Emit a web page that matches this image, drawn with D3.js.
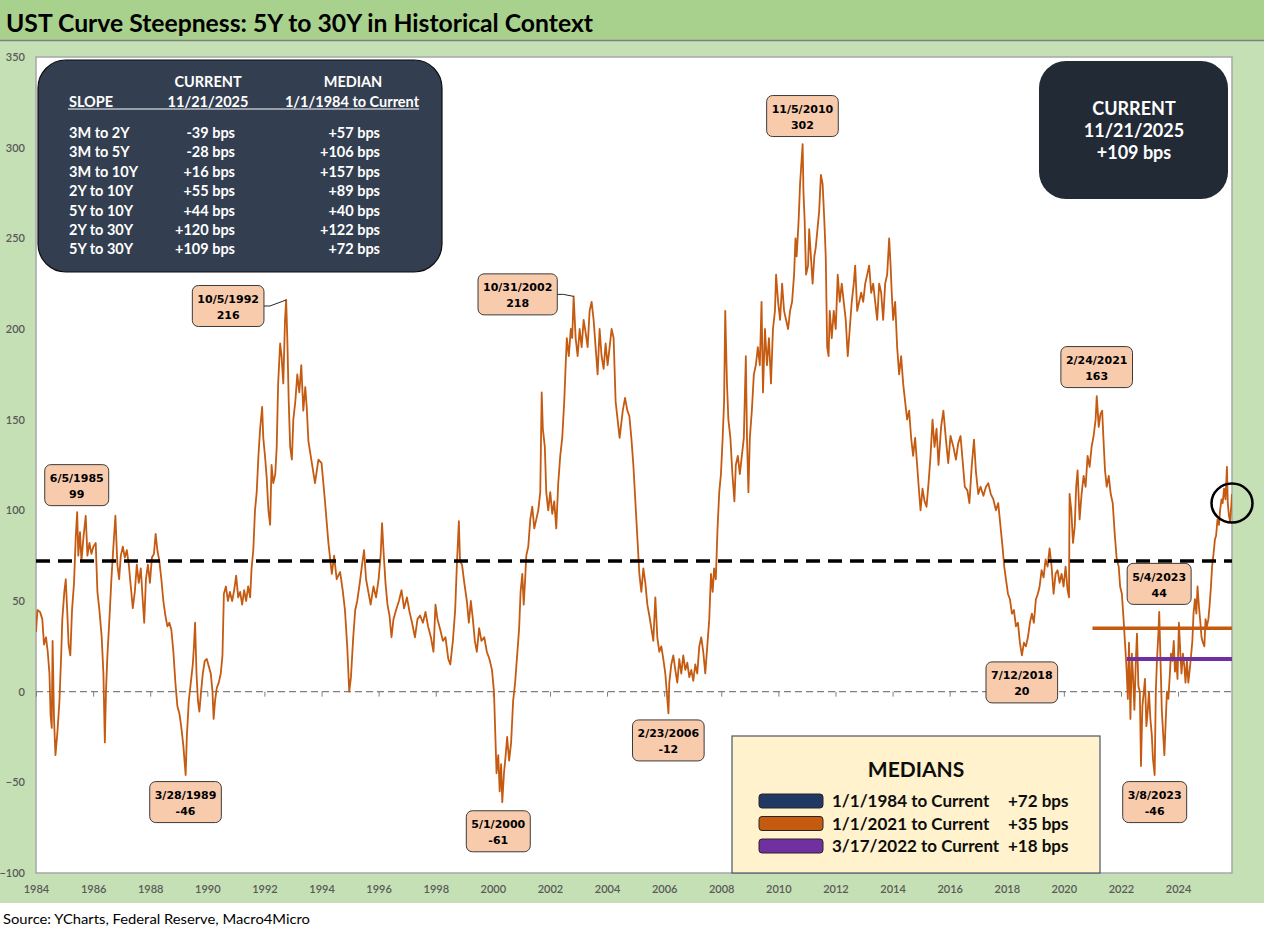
<!DOCTYPE html>
<html>
<head>
<meta charset="utf-8">
<script src="https://cdn.jsdelivr.net/npm/d3@7"></script>
<style>
  body { margin: 0; background: #fff; }
  svg { display: block; }
</style>
</head>
<body>
<div id="chart"></div>
<script>
// Traced points of the 5Y-30Y slope: decimal year and value in bps (one line per year)
const yearPos = [
  1984.00,1984.05,1984.14,1984.22,1984.28,1984.35,1984.41,1984.47,1984.51,1984.55,1984.58,1984.63,1984.68,1984.75,1984.82,1984.88,1984.92,1984.99,
  1985.04,1985.09,1985.14,1985.20,1985.26,1985.33,1985.39,1985.44,1985.48,1985.54,1985.59,1985.66,1985.74,1985.80,1985.87,1985.94,
  1986.01,1986.09,1986.15,1986.22,1986.30,1986.36,1986.41,1986.45,1986.50,1986.57,1986.64,1986.71,1986.78,1986.85,1986.91,1986.97,
  1987.04,1987.11,1987.18,1987.25,1987.32,1987.39,1987.46,1987.53,1987.60,1987.67,1987.74,1987.79,1987.85,1987.92,1987.99,
  1988.06,1988.13,1988.19,1988.25,1988.32,1988.39,1988.46,1988.53,1988.60,1988.67,1988.74,1988.81,1988.88,1988.95,
  1989.02,1989.09,1989.16,1989.24,1989.28,1989.35,1989.42,1989.49,1989.53,1989.57,1989.62,1989.67,1989.72,1989.78,1989.84,1989.91,1989.98,
  1990.05,1990.12,1990.18,1990.22,1990.27,1990.33,1990.40,1990.47,1990.53,1990.58,1990.65,1990.72,1990.79,1990.87,1990.94,
  1991.01,1991.08,1991.15,1991.22,1991.29,1991.36,1991.43,1991.50,1991.55,1991.61,1991.67,1991.73,1991.79,1991.85,1991.92,1991.96,
  1992.02,1992.08,1992.14,1992.20,1992.25,1992.31,1992.38,1992.43,1992.48,1992.55,1992.60,1992.66,1992.72,1992.76,1992.80,1992.85,1992.90,1992.96,
  1993.01,1993.08,1993.15,1993.22,1993.29,1993.36,1993.43,1993.48,1993.54,1993.66,1993.77,1993.89,
  1994.00,1994.12,1994.24,1994.36,1994.44,1994.53,1994.65,1994.74,1994.82,1994.90,1994.97,
  1995.03,1995.11,1995.18,1995.25,1995.34,1995.42,1995.49,1995.56,1995.64,1995.72,1995.82,1995.91,
  1996.00,1996.07,1996.12,1996.17,1996.24,1996.31,1996.38,1996.45,1996.52,1996.61,1996.71,1996.80,1996.89,1996.99,
  1997.08,1997.17,1997.27,1997.36,1997.45,1997.55,1997.64,1997.73,1997.83,1997.92,1997.99,
  1998.06,1998.16,1998.25,1998.34,1998.44,1998.51,1998.60,1998.68,1998.74,1998.81,1998.85,1998.92,
  1999.00,1999.09,1999.16,1999.23,1999.30,1999.37,1999.44,1999.52,1999.60,1999.70,1999.79,1999.88,1999.97,
  2000.04,2000.08,2000.13,2000.19,2000.24,2000.29,2000.33,2000.39,2000.45,2000.50,2000.57,2000.64,2000.71,2000.78,2000.85,2000.92,2000.97,
  2001.03,2001.08,2001.13,2001.17,2001.24,2001.31,2001.38,2001.45,2001.52,2001.59,2001.66,2001.71,2001.75,2001.82,2001.87,2001.94,
  2002.01,2002.08,2002.15,2002.22,2002.29,2002.36,2002.43,2002.50,2002.55,2002.59,2002.66,2002.73,2002.78,2002.83,2002.90,2002.97,
  2003.04,2003.11,2003.18,2003.25,2003.32,2003.39,2003.46,2003.53,2003.60,2003.67,2003.74,2003.81,2003.88,2003.95,
  2004.02,2004.09,2004.16,2004.23,2004.30,2004.37,2004.44,2004.55,2004.63,2004.71,2004.78,2004.85,2004.92,2004.99,
  2005.06,2005.13,2005.20,2005.27,2005.34,2005.41,2005.48,2005.55,2005.62,2005.69,2005.76,2005.83,2005.90,2005.97,
  2006.04,2006.15,2006.18,2006.25,2006.32,2006.39,2006.46,2006.53,2006.60,2006.67,2006.74,2006.81,2006.88,2006.95,
  2007.02,2007.09,2007.16,2007.23,2007.30,2007.37,2007.44,2007.51,2007.58,2007.64,2007.70,2007.75,2007.81,2007.87,2007.93,2007.99,
  2008.05,2008.10,2008.14,2008.20,2008.25,2008.32,2008.39,2008.46,2008.51,2008.58,2008.65,2008.72,2008.79,2008.86,2008.90,2008.95,
  2009.00,2009.07,2009.14,2009.21,2009.28,2009.35,2009.41,2009.46,2009.53,2009.60,2009.67,2009.74,2009.81,2009.88,2009.92,2009.99,
  2010.06,2010.13,2010.20,2010.27,2010.34,2010.41,2010.48,2010.55,2010.60,2010.64,2010.71,2010.76,2010.85,2010.88,2010.92,2010.97,
  2011.04,2011.08,2011.14,2011.20,2011.26,2011.31,2011.37,2011.43,2011.49,2011.55,2011.61,2011.66,2011.71,2011.76,2011.80,2011.87,2011.94,
  2012.01,2012.08,2012.15,2012.22,2012.29,2012.36,2012.43,2012.50,2012.57,2012.64,2012.69,2012.76,2012.83,2012.90,2012.97,
  2013.04,2013.11,2013.18,2013.25,2013.32,2013.39,2013.46,2013.53,2013.60,2013.67,2013.74,2013.81,2013.88,2013.93,2013.97,
  2014.02,2014.09,2014.16,2014.23,2014.30,2014.37,2014.44,2014.51,2014.58,2014.65,2014.72,2014.79,2014.86,2014.93,2014.98,
  2015.05,2015.12,2015.19,2015.26,2015.33,2015.40,2015.47,2015.54,2015.61,2015.70,2015.78,2015.87,2015.95,
  2016.03,2016.13,2016.22,2016.30,2016.38,2016.45,2016.53,2016.62,2016.69,2016.77,2016.85,2016.92,
  2017.00,2017.08,2017.18,2017.27,2017.35,2017.44,2017.53,2017.62,2017.70,2017.78,2017.85,2017.91,2017.97,
  2018.04,2018.11,2018.18,2018.25,2018.32,2018.39,2018.46,2018.53,2018.60,2018.67,2018.74,2018.81,2018.88,2018.95,
  2019.02,2019.09,2019.15,2019.22,2019.29,2019.36,2019.43,2019.50,2019.57,2019.64,2019.71,2019.78,2019.85,2019.92,2019.99,
  2020.06,2020.13,2020.18,2020.20,2020.26,2020.32,2020.38,2020.43,2020.48,2020.55,2020.62,2020.69,2020.76,2020.83,2020.90,2020.97,
  2021.04,2021.11,2021.15,2021.22,2021.28,2021.34,2021.38,2021.44,2021.50,2021.57,2021.64,2021.71,2021.78,2021.85,2021.92,2021.97,
  2022.03,2022.09,2022.14,2022.19,2022.24,2022.28,2022.33,2022.38,2022.42,2022.47,2022.52,2022.56,2022.61,2022.66,2022.70,2022.75,2022.80,2022.84,2022.89,2022.94,2022.98,
  2023.03,2023.08,2023.12,2023.18,2023.22,2023.26,2023.31,2023.34,2023.39,2023.43,2023.48,2023.52,2023.57,2023.61,2023.66,2023.71,2023.75,2023.80,2023.85,2023.89,2023.94,2023.98,
  2024.03,2024.08,2024.12,2024.17,2024.22,2024.26,2024.31,2024.36,2024.40,2024.45,2024.50,2024.54,2024.59,2024.64,2024.68,2024.73,2024.78,2024.82,2024.87,2024.92,2024.96,
  2025.01,2025.06,2025.10,2025.15,2025.19,2025.24,2025.29,2025.33,2025.38,2025.43,2025.47,2025.52,2025.56,2025.61,2025.66,2025.71,2025.74,2025.78,2025.82,2025.86,2025.888
];
const slopeBps = [
  33,45,44,40,26,30,22,10,-13,-20,28,-15,-35,-22,-5,20,40,55,
  62,45,26,20,45,60,85,99,75,88,72,85,97,75,82,76,
  80,82,55,45,30,10,-28,0,20,40,62,80,97,70,62,75,
  80,74,78,70,58,46,55,70,60,68,50,38,62,70,60,
  74,76,87,78,72,62,50,42,36,38,34,22,5,-8,
  -12,-20,-30,-46,-25,-5,5,15,25,38,10,-5,-11,0,10,17,18,
  14,10,0,-15,-5,2,5,10,20,54,58,50,55,50,56,
  64,52,55,48,56,50,58,52,68,78,100,110,130,145,157,140,
  130,118,100,92,125,115,120,135,170,192,185,170,205,216,195,160,135,128,
  150,160,175,165,180,155,168,157,138,126,115,128,
  126,105,82,65,75,62,66,56,45,25,0,
  8,30,45,50,60,70,78,62,55,48,58,52,
  62,75,93,78,60,48,42,30,40,45,50,56,46,52,
  44,38,30,40,42,38,44,36,30,22,48,
  40,34,28,30,18,15,28,45,70,94,72,70,
  60,50,38,50,40,28,22,35,28,30,22,18,12,
  0,-20,-45,-35,-55,-40,-61,-45,-35,-25,-38,-28,-5,5,20,35,55,
  65,48,62,75,80,95,102,90,95,100,110,165,145,135,110,100,
  110,98,105,90,115,130,140,160,180,195,185,200,195,218,195,185,
  200,190,205,198,190,210,215,205,190,175,200,185,178,192,
  180,190,200,195,160,150,140,155,162,155,152,140,125,105,
  85,65,55,68,60,48,42,35,28,52,30,22,25,18,
  10,-12,5,15,20,12,5,18,10,20,12,16,8,12,
  6,15,10,25,30,22,10,25,40,65,55,68,62,90,110,120,
  140,160,210,170,150,140,120,105,125,130,120,130,140,185,140,110,
  140,155,175,180,190,180,215,165,200,180,195,170,200,210,230,215,
  205,225,210,205,200,210,215,230,250,240,260,280,302,275,260,230,
  235,255,240,225,240,245,255,265,285,280,260,240,190,185,210,195,210,
  200,230,215,225,215,205,185,200,215,225,235,210,215,220,215,
  225,230,235,220,225,215,205,225,220,205,225,230,250,235,220,
  205,215,190,175,185,170,160,150,155,140,130,140,125,110,100,
  112,105,102,115,130,150,135,145,125,146,155,139,126,
  141,135,128,137,141,128,113,111,104,124,139,121,
  109,113,108,113,115,109,106,100,104,91,80,69,62,
  54,51,43,45,36,38,27,20,27,25,30,38,43,38,
  51,54,58,67,63,73,69,79,69,54,65,67,60,65,58,
  69,56,52,109,100,82,91,113,122,95,109,119,113,130,124,135,
  141,150,163,146,153,155,141,122,113,119,109,104,87,73,69,58,
  54,40,27,14,-4,27,-15,21,9,-10,17,32,3,0,-41,-8,0,7,-19,-10,0,
  -15,-24,-37,-46,0,17,32,44,14,-10,-24,-35,-15,0,-4,9,21,17,28,11,17,7,
  38,21,10,21,14,5,17,5,11,19,28,43,51,43,58,47,38,30,27,25,40,
  36,40,47,58,69,76,84,86,95,92,100,106,104,112,106,124,104,97,94,102,109
];

// Axis ticks
const xTickYears = [1984,1986,1988,1990,1992,1994,1996,1998,2000,2002,2004,2006,2008,2010,2012,2014,2016,2018,2020,2022,2024];
const yTicks = [-100,-50,0,50,100,150,200,250,300,350];
const axisStart = "1984-01-01";
const axisEnd = "2025-11-21";

// Median reference lines
const medianLabels = ["1/1/1984 to Current", "1/1/2021 to Current", "3/17/2022 to Current"];
const medianStarts = ["1984-01-01", "2021-01-01", "2022-03-17"];
const medianValues = [72, 35, 18];
const medianTexts = ["+72 bps", "+35 bps", "+18 bps"];

// Summary table
const slopeNames = ["3M to 2Y", "3M to 5Y", "3M to 10Y", "2Y to 10Y", "5Y to 10Y", "2Y to 30Y", "5Y to 30Y"];
const slopeCurrent = ["-39 bps", "-28 bps", "+16 bps", "+55 bps", "+44 bps", "+120 bps", "+109 bps"];
const slopeMedian = ["+57 bps", "+106 bps", "+157 bps", "+89 bps", "+40 bps", "+122 bps", "+72 bps"];
const currentBox = ["CURRENT", "11/21/2025", "+109 bps"];

// Highs and lows called out on the chart
const calloutDates = ["1985-06-05", "1989-03-28", "1992-10-05", "2000-05-01", "2002-10-31", "2006-02-23",
                      "2010-11-05", "2018-07-12", "2021-02-24", "2023-03-08", "2023-05-04"];
const calloutValues = [99, -46, 216, -61, 218, -12, 302, 20, 163, -46, 44];
const currentMark = ["2025-11-21", 104];

// layout: box centre offset from its point, and whether a leader line is drawn
const calloutOffsets = [[0,-27],[0,27],[-58,6],[-4,29],[-56,-2],[0,27],[0,-28],[0,27],[0,-29],[0,27],[0,-28]];
const calloutLeader = [false, false, true, false, true, false, false, false, false, false, false];

const W = 1264, H = 941;
const plot = { left: 36, right: 1232, top: 57, bottom: 873 };
const sans = "Lato, 'Open Sans', sans-serif";
const lineOrange = "#c55a11";
const legendFills = ["#203864", "#c55a11", "#7030a0"];

const parseDate = d3.timeParse("%Y-%m-%d");
function yearToDate(v) {
  const yr = Math.floor(v);
  const a = new Date(yr, 0, 1), b = new Date(yr + 1, 0, 1);
  return new Date(+a + (v - yr) * (b - a));
}
const series = yearPos.map((t, i) => ({ date: yearToDate(t), value: slopeBps[i] }));

const svg = d3.select("#chart")
  .append("svg")
  .attr("width", W)
  .attr("height", H);

// Background bands
svg.append("rect").attr("width", W).attr("height", 903).attr("fill", "#c5e0b4");
svg.append("rect").attr("width", W).attr("height", 40).attr("fill", "#a9d18e");
svg.append("line").attr("x1", 0).attr("x2", W).attr("y1", 40.5).attr("y2", 40.5)
  .attr("stroke", "#7f7f7f").attr("stroke-width", 1.5);

svg.append("text")
  .attr("x", 6).attr("y", 32)
  .attr("font-family", sans).attr("font-weight", 700).attr("font-size", 25)
  .attr("textLength", 587).attr("lengthAdjust", "spacingAndGlyphs")
  .attr("fill", "#000")
  .text("UST Curve Steepness: 5Y to 30Y in Historical Context");

// Plot area
svg.append("rect")
  .attr("x", plot.left).attr("y", plot.top)
  .attr("width", plot.right - plot.left).attr("height", plot.bottom - plot.top)
  .attr("fill", "#fff").attr("stroke", "#a6a6a6").attr("stroke-width", 1.5);

// Scales
const xScale = d3.scaleTime()
  .domain([parseDate(axisStart), parseDate(axisEnd)])
  .range([plot.left, plot.right]);
const yScale = d3.scaleLinear()
  .domain([-100, 350])
  .range([plot.bottom, plot.top]);

// Y axis labels
const yAxisGroup = svg.append("g")
  .attr("transform", `translate(${plot.left},0)`)
  .call(d3.axisLeft(yScale).tickValues(yTicks).tickSize(0).tickPadding(11));
yAxisGroup.select(".domain").remove();
yAxisGroup.selectAll("text")
  .attr("font-family", sans).attr("font-size", 11).attr("font-weight", 600).attr("fill", "#595959");

// X axis labels along the bottom
const xTickDates = xTickYears.map(y => new Date(y, 0, 1));
const xAxisGroup = svg.append("g")
  .attr("transform", `translate(0,${plot.bottom})`)
  .call(d3.axisBottom(xScale).tickValues(xTickDates).tickFormat(d3.timeFormat("%Y")).tickSize(0).tickPadding(12));
xAxisGroup.select(".domain").remove();
xAxisGroup.selectAll("text")
  .attr("font-family", sans).attr("font-size", 11).attr("font-weight", 600).attr("fill", "#595959");

// Zero line (dashed axis) with its tick marks
svg.append("line")
  .attr("x1", plot.left).attr("x2", plot.right)
  .attr("y1", yScale(0)).attr("y2", yScale(0))
  .attr("stroke", "#7f7f7f").attr("stroke-width", 1.4).attr("stroke-dasharray", "7,4");
const zeroTicks = svg.append("g")
  .attr("transform", `translate(0,${yScale(0)})`)
  .call(d3.axisBottom(xScale).tickValues(xTickDates).tickFormat("").tickSize(5).tickSizeOuter(0));
zeroTicks.select(".domain").remove();
zeroTicks.selectAll("line").attr("stroke", "#7f7f7f");

// Slope line
svg.append("clipPath").attr("id", "plotClip")
  .append("rect")
  .attr("x", plot.left).attr("y", plot.top)
  .attr("width", plot.right - plot.left).attr("height", plot.bottom - plot.top);

const line = d3.line()
  .x(d => xScale(d.date))
  .y(d => yScale(d.value));

svg.append("path")
  .datum(series)
  .attr("clip-path", "url(#plotClip)")
  .attr("fill", "none")
  .attr("stroke", lineOrange)
  .attr("stroke-width", 1.8)
  .attr("stroke-linejoin", "round")
  .attr("d", line);

// Median lines
const medianStyle = [
  { stroke: "#000", width: 3.5, dash: "14,8" },
  { stroke: "#c55a11", width: 3.5, dash: null },
  { stroke: "#7030a0", width: 4, dash: null }
];
medianValues.forEach((v, i) => {
  svg.append("line")
    .attr("x1", xScale(parseDate(medianStarts[i])))
    .attr("x2", plot.right)
    .attr("y1", yScale(v)).attr("y2", yScale(v))
    .attr("stroke", medianStyle[i].stroke)
    .attr("stroke-width", medianStyle[i].width)
    .attr("stroke-dasharray", medianStyle[i].dash);
});

// Circle on the latest reading
svg.append("ellipse")
  .attr("cx", xScale(parseDate(currentMark[0])))
  .attr("cy", yScale(currentMark[1]))
  .attr("rx", 20.5).attr("ry", 19.5)
  .attr("fill", "none")
  .attr("stroke", "#000")
  .attr("stroke-width", 2.5);

// Summary table box
const table = svg.append("g");
table.append("rect")
  .attr("x", 38).attr("y", 60).attr("width", 404).attr("height", 212)
  .attr("rx", 28)
  .attr("fill", "#333f50").attr("stroke", "#0d0d0d").attr("stroke-width", 1.2);

function tableText(x, y, txt, anchor) {
  table.append("text")
    .attr("x", x).attr("y", y)
    .attr("text-anchor", anchor)
    .attr("font-family", sans).attr("font-weight", 700).attr("font-size", 14.5)
    .attr("fill", "#fff")
    .text(txt);
}
tableText(208, 87, "CURRENT", "middle");
tableText(353, 87, "MEDIAN", "middle");
tableText(69, 107, "SLOPE", "start");
tableText(208, 107, "11/21/2025", "middle");
tableText(352, 107, "1/1/1984 to Current", "middle");
table.append("line")
  .attr("x1", 68).attr("x2", 419).attr("y1", 109).attr("y2", 109)
  .attr("stroke", "#fff").attr("stroke-width", 1);

slopeNames.forEach((name, i) => {
  const y = 138 + i * 19.4;
  tableText(69, y, name, "start");
  tableText(235, y, slopeCurrent[i], "end");
  tableText(380, y, slopeMedian[i], "end");
});

// Current value box
const cur = svg.append("g");
cur.append("rect")
  .attr("x", 1039).attr("y", 61).attr("width", 189).attr("height", 138)
  .attr("rx", 27)
  .attr("fill", "#222a35");
currentBox.forEach((txt, i) => {
  cur.append("text")
    .attr("x", 1134).attr("y", 115 + i * 22)
    .attr("text-anchor", "middle")
    .attr("font-family", sans).attr("font-weight", 700).attr("font-size", 18)
    .attr("fill", "#fff")
    .text(txt);
});

// Medians legend box
const legend = svg.append("g");
legend.append("rect")
  .attr("x", 732).attr("y", 736).attr("width", 368).attr("height", 137)
  .attr("fill", "#fff2cc").attr("stroke", "#4a5568").attr("stroke-width", 1.2);
legend.append("text")
  .attr("x", 916).attr("y", 777)
  .attr("text-anchor", "middle")
  .attr("font-family", sans).attr("font-weight", 700).attr("font-size", 21)
  .attr("fill", "#0d0d0d")
  .text("MEDIANS");
medianLabels.forEach((lbl, i) => {
  const base = 807 + i * 22.5;
  legend.append("rect")
    .attr("x", 759).attr("y", base - 13).attr("width", 64).attr("height", 14)
    .attr("rx", 3)
    .attr("fill", legendFills[i]).attr("stroke", "#262626").attr("stroke-width", 1);
  legend.append("text")
    .attr("x", 832).attr("y", base)
    .attr("font-family", sans).attr("font-weight", 700).attr("font-size", 17)
    .attr("fill", "#0d0d0d")
    .text(lbl);
  legend.append("text")
    .attr("x", 1008).attr("y", base)
    .attr("font-family", sans).attr("font-weight", 700).attr("font-size", 17)
    .attr("fill", "#0d0d0d")
    .text(medianTexts[i]);
});

// Callouts
const fmtCallout = d3.timeFormat("%-m/%-d/%Y");
calloutDates.forEach((ds, i) => {
  const date = parseDate(ds);
  const px = xScale(date), py = yScale(calloutValues[i]);
  const cx = px + calloutOffsets[i][0], cy = py + calloutOffsets[i][1];
  const g = svg.append("g");
  const rect = g.append("rect");
  const t1 = g.append("text")
    .attr("x", cx).attr("y", cy - 3)
    .attr("text-anchor", "middle")
    .attr("font-family", "'DejaVu Sans', Verdana, sans-serif").attr("font-weight", 700).attr("font-size", 11)
    .attr("fill", "#000")
    .text(fmtCallout(date));
  g.append("text")
    .attr("x", cx).attr("y", cy + 13)
    .attr("text-anchor", "middle")
    .attr("font-family", "'DejaVu Sans', Verdana, sans-serif").attr("font-weight", 700).attr("font-size", 11)
    .attr("fill", "#000")
    .text(calloutValues[i]);
  const w = t1.node().getComputedTextLength() + 10;
  rect.attr("x", cx - w / 2).attr("y", cy - 20.5)
    .attr("width", w).attr("height", 41)
    .attr("rx", 6)
    .attr("fill", "#f8cbad").attr("stroke", "#3a3a3a").attr("stroke-width", 1);
  if (calloutLeader[i]) {
    const bx = cx + w / 2;
    g.append("polyline")
      .attr("points", `${bx},${cy} ${bx + 6},${cy} ${px},${py}`)
      .attr("fill", "none").attr("stroke", "#262626").attr("stroke-width", 1);
  }
});

// Source note
svg.append("text")
  .attr("x", 3).attr("y", 924)
  .attr("font-family", sans).attr("font-size", 14)
  .attr("textLength", 307).attr("lengthAdjust", "spacingAndGlyphs")
  .attr("fill", "#000")
  .text("Source: YCharts, Federal Reserve, Macro4Micro");
</script>
</body>
</html>
